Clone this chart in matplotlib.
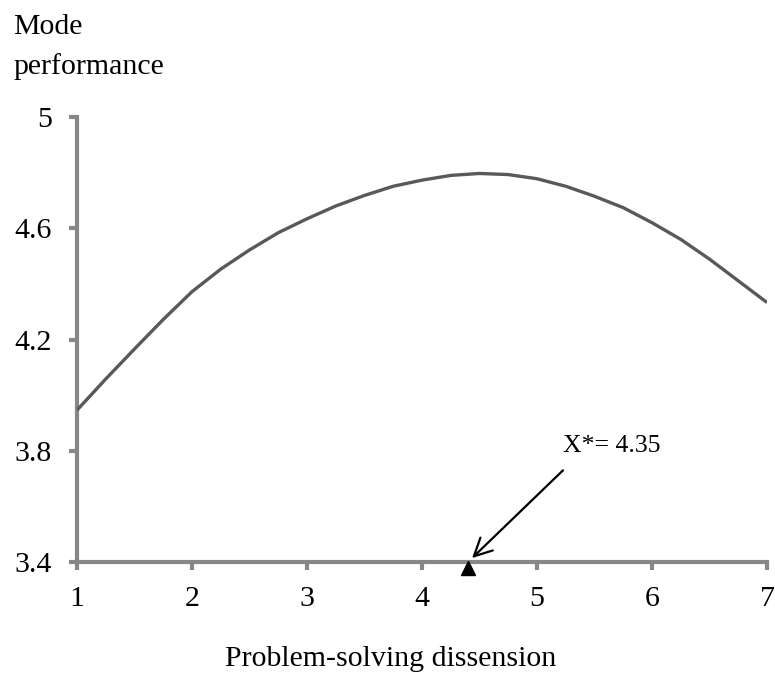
import matplotlib
matplotlib.use("Agg")
import matplotlib.pyplot as plt
import matplotlib.transforms as mtransforms

# values
x = [1, 1.25, 1.5, 1.75, 2, 2.25, 2.5, 2.75, 3, 3.25, 3.5, 3.75, 4,
     4.25, 4.5, 4.75, 5, 5.25, 5.5, 5.75, 6, 6.25, 6.5, 6.75, 7]
y = [3.946, 4.058, 4.166, 4.272, 4.372, 4.453, 4.522, 4.584, 4.634, 4.680,
     4.718, 4.751, 4.773, 4.790, 4.797, 4.793, 4.778, 4.751, 4.715, 4.674,
     4.620, 4.560, 4.489, 4.411, 4.333]
x_ticks = [1, 2, 3, 4, 5, 6, 7]
y_ticks = [3.4, 3.8, 4.2, 4.6, 5.0]
y_tick_labels = ["3.4", "3.8", "4.2", "4.6", "5"]
x_star = 4.4
x_star_label = "X*= 4.35"

plt.rcParams["font.family"] = ["Liberation Serif", "DejaVu Serif"]
grey = "#878787"

fig = plt.figure(figsize=(7.75, 6.75), dpi=100)
ax = fig.add_axes([77 / 775, 1 - 562 / 675, 690 / 775, 445 / 675])

ax.plot(x, y, color="#595959", lw=2.4, solid_capstyle="butt", zorder=3)
# triangle sits just below the axis line
down = mtransforms.offset_copy(ax.transData, fig=fig, x=0, y=-4, units="points")
ax.plot([x_star], [3.4], marker="^", color="black", ms=10, clip_on=False,
        zorder=5, transform=down)

ax.annotate(x_star_label, xy=(4.435, 3.414), xytext=(5.226, 3.795),
            fontsize=18.5, ha="left", va="baseline",
            arrowprops=dict(arrowstyle="->", color="black", lw=1.6,
                            mutation_scale=32, shrinkA=0, shrinkB=0,
                            relpos=(0.0, -0.6)))

ax.set_xlim(1, 7)
ax.set_ylim(3.4, 5)
ax.set_xticks(x_ticks)
ax.set_yticks(y_ticks)
ax.set_yticklabels(y_tick_labels)

for s in ["top", "right"]:
    ax.spines[s].set_visible(False)
for s in ["left", "bottom"]:
    ax.spines[s].set_color(grey)
    ax.spines[s].set_linewidth(3)
ax.tick_params(axis="both", colors=grey, width=3, length=6, labelsize=21.5,
               labelcolor="black", direction="out")
ax.tick_params(axis="y", pad=12)
ax.tick_params(axis="x", pad=11)

fig.text(13 / 775, 1 - 14 / 675, "Mode\nperformance", fontsize=21.5,
         ha="left", va="top", linespacing=1.6)
fig.text(391 / 775, 1 - 666 / 675, "Problem-solving dissension", fontsize=21.5,
         ha="center", va="baseline")

fig.savefig("out.png", dpi=100)
